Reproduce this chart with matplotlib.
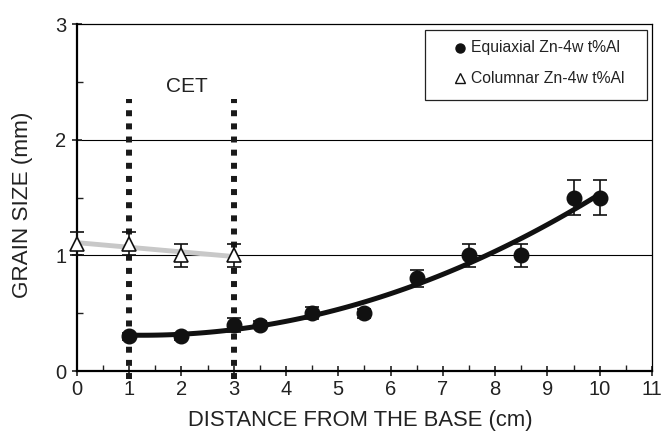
import matplotlib
matplotlib.use("Agg")
import matplotlib.pyplot as plt
import numpy as np
from matplotlib.ticker import MultipleLocator
from matplotlib.patches import Rectangle

plt.rcParams['font.family'] = ['Liberation Sans', 'DejaVu Sans']

# Equiaxial data
eq_x = [1, 2, 3, 3.5, 4.5, 5.5, 6.5, 7.5, 8.5, 9.5, 10]
eq_y = [0.3, 0.3, 0.4, 0.4, 0.5, 0.5, 0.8, 1.0, 1.0, 1.5, 1.5]
eq_err = [0.03, 0.03, 0.06, 0.03, 0.05, 0.04, 0.07, 0.1, 0.1, 0.15, 0.15]

# Columnar data
col_x = [0, 1, 2, 3]
col_y = [1.1, 1.1, 1.0, 1.0]
col_err = [0.1, 0.1, 0.1, 0.1]

cet_x = [1, 3]
labels = ['Equiaxial Zn-4w t%Al', 'Columnar Zn-4w t%Al']

fig = plt.figure(figsize=(6.62, 4.37), dpi=100)
ax = fig.add_axes([0.116, 0.151, 0.869, 0.794])

ax.set_xlim(0, 11)
ax.set_ylim(0, 3)

for yv in [1, 2]:
    ax.axhline(yv, color='black', lw=0.8, zorder=1)

# trend lines (fitted from the data)
pc = np.polyfit(col_x, col_y, 1)
xc = np.linspace(min(col_x), max(col_x), 50)
ax.plot(xc, np.polyval(pc, xc), color='#c8c8c8', lw=3.5, zorder=2)

pe = np.polyfit(eq_x, eq_y, 2)
xe = np.linspace(min(eq_x), max(eq_x), 100)
ax.plot(xe, np.polyval(pe, xe), color='#111111', lw=3.6, zorder=3,
        solid_capstyle='round')

# CET dotted lines
for cx in cet_x:
    ax.plot([cx, cx], [-0.07, 2.35], color='#1a1a1a', lw=4.3,
            linestyle=(0, (1.0, 1.2)), dash_capstyle='butt',
            clip_on=False, zorder=4)
ax.text(2.1, 2.46, 'CET', ha='center', va='center', fontsize=15, color='#222222')

ax.errorbar(eq_x, eq_y, yerr=eq_err, fmt='o', color='#111111', ms=10.5,
            ecolor='#111111', elinewidth=1.2, capsize=5, capthick=1.2,
            zorder=5, clip_on=False)
ax.errorbar(col_x, col_y, yerr=col_err, fmt='^', mfc='white', mec='#111111',
            mew=1.2, ms=10, ecolor='#111111', elinewidth=1.2, capsize=5,
            capthick=1.2, zorder=6, clip_on=False)

# legend box (drawn in axes coordinates)
ax.add_patch(Rectangle((0.605, 0.781), 0.386, 0.202, transform=ax.transAxes,
                       facecolor='white', edgecolor='#222222', lw=0.9, zorder=7))
ax.plot([0.666], [0.931], 'o', color='#111111', ms=6.5, transform=ax.transAxes, zorder=8)
ax.plot([0.666], [0.844], '^', mfc='white', mec='#111111', mew=1, ms=6.5,
        transform=ax.transAxes, zorder=8)
ax.text(0.686, 0.931, labels[0], transform=ax.transAxes, fontsize=11.3,
        va='center', ha='left', color='#222222', zorder=8)
ax.text(0.686, 0.844, labels[1], transform=ax.transAxes, fontsize=11.3,
        va='center', ha='left', color='#222222', zorder=8)

ax.xaxis.set_major_locator(MultipleLocator(1))
ax.xaxis.set_minor_locator(MultipleLocator(0.5))
ax.yaxis.set_major_locator(MultipleLocator(1))
ax.yaxis.set_minor_locator(MultipleLocator(0.5))
ax.tick_params(axis='both', which='major', direction='inout', length=7, width=1.2,
               labelsize=14.5, colors='#222222')
ax.tick_params(axis='both', which='minor', direction='in', length=4, width=1.0,
               colors='#222222')
ax.tick_params(axis='x', pad=3)
ax.tick_params(axis='y', pad=4)

for side in ['left', 'bottom']:
    ax.spines[side].set_linewidth(1.6)
for side in ['top', 'right']:
    ax.spines[side].set_linewidth(0.9)

ax.set_xlabel('DISTANCE FROM THE BASE (cm)', fontsize=15.8, color='#222222')
ax.set_ylabel('GRAIN SIZE (mm)', fontsize=16.2, color='#222222')
ax.xaxis.set_label_coords(0.492, -0.112)
ax.yaxis.set_label_coords(-0.094, 0.48)
ax.xaxis.label.set_va('top')
ax.yaxis.label.set_va('center')

fig.savefig('out.png', dpi=100)
